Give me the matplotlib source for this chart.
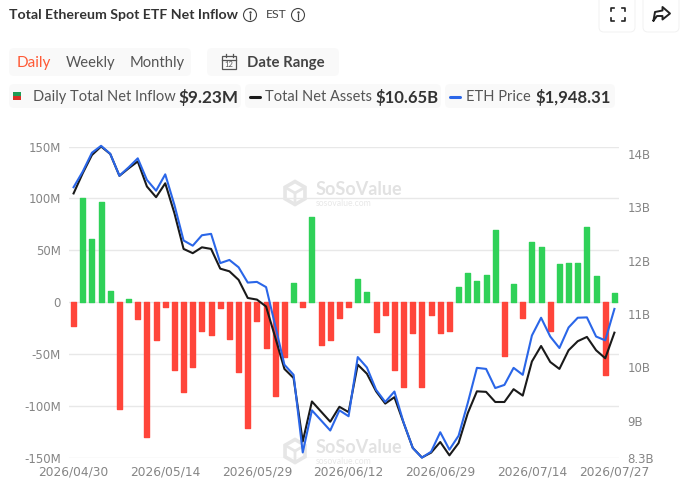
import matplotlib
matplotlib.use('Agg')
import matplotlib.pyplot as plt
from matplotlib.patches import FancyBboxPatch, Circle, Rectangle, RegularPolygon

# data
flow = [-23, 100.5, 61, 97, 11, -103, 3, -16, -130, -36, -5, -65, -86, -62, -28, -32, -6, -35, -67, -121.5,
        -18, -44.5, -90, -53, 19, -5, 82, -41, -36, -15.5, -5, 22, 9.5, -29, -12.5, -65.5, -82, -30, -81.5, -12.5,
        -29.5, -27.5, 14.5, 28.5, 20, 26.5, 70, -52, 18, -15, 58, 53.5, -27.5, 36.5, 38, 37.5, 72.5, 25.5, -70.5, 9.23]
assets = [13.26, 13.64, 13.98, 14.14, 14.00, 13.59, 13.73, 13.86, 13.39, 13.19, 13.45, 12.89, 12.22, 12.14, 12.25,
          12.22, 11.85, 11.80, 11.64, 11.30, 11.27, 11.14, 10.56, 9.97, 9.80, 8.61, 9.36, 9.17, 8.98, 9.26,
          9.16, 10.05, 9.88, 9.55, 9.32, 9.44, 8.96, 8.49, 8.31, 8.40, 8.60, 8.35, 8.58, 9.14, 9.55,
          9.54, 9.35, 9.35, 9.59, 9.47, 10.11, 10.40, 10.10, 9.97, 10.32, 10.49, 10.57, 10.32, 10.17, 10.65]
price = [2298, 2343, 2397, 2417, 2394, 2331, 2355, 2381, 2319, 2288, 2335, 2247, 2145, 2130, 2160,
         2164, 2080, 2089, 2068, 2024, 2026, 2011, 1900, 1788, 1759, 1536, 1657, 1628, 1599, 1657,
         1640, 1810, 1780, 1716, 1681, 1711, 1622, 1549, 1521, 1538, 1594, 1544, 1584, 1678, 1779,
         1776, 1721, 1730, 1779, 1759, 1872, 1923, 1869, 1836, 1895, 1923, 1924, 1869, 1858, 1948.31]
date_pos = [0, 10, 20, 30, 40, 50, 59]
date_labels = ['2026/04/30', '2026/05/14', '2026/05/29', '2026/06/12', '2026/06/29', '2026/07/14', '2026/07/27']
flow_ticks = [150, 100, 50, 0, -50, -100, -150]
flow_labels = ['150M', '100M', '50M', '0', '-50M', '-100M', '-150M']
asset_ticks = [14, 13, 12, 11, 10, 9, 8.3]
asset_labels = ['14B', '13B', '12B', '11B', '10B', '9B', '8.3B']

GREEN = '#2fd158'
RED = '#ff453a'
BLACK = '#1a1a1a'
BLUE = '#2a66e8'
W, H = 690, 493

fig = plt.figure(figsize=(6.9, 4.93), dpi=100)

# header layer, in pixels
bg = fig.add_axes([0, 0, 1, 1], zorder=0)
bg.set_xlim(0, W)
bg.set_ylim(H, 0)
bg.axis('off')


def label(x, y, s, size=10, color='#333333', weight='normal', ha='left'):
    bg.text(x, y, s, fontsize=size, color=color, fontweight=weight, ha=ha, va='center', family='Lato')


def box(x0, y0, x1, y1, face='#f9f9f9', edge='none'):
    bg.add_patch(FancyBboxPatch((x0 + 5, y0 + 5), x1 - x0 - 10, y1 - y0 - 10, boxstyle='round,pad=5',
                                fc=face, ec=edge, lw=0.7))


def info(x, y):
    bg.add_patch(Circle((x, y), 6.5, fc='none', ec='#444444', lw=0.8))
    bg.plot([x, x], [y - 1, y + 3.5], color='#444444', lw=0.9)
    bg.plot([x], [y - 3], '.', color='#444444', ms=1.5)


label(9, 15, 'Total Ethereum Spot ETF Net Inflow', 10.15, '#333333', 'bold')
info(250, 15)
label(266, 15, 'EST', 8.8, '#444444')
info(298, 15)

box(599, -12, 635, 32, 'white', '#f2f2f2')
box(643, -12, 679, 32, 'white', '#f2f2f2')
# fullscreen corners
for cx, cy, dx, dy in [(611, 8, 1, 1), (625, 8, -1, 1), (611, 21, 1, -1), (625, 21, -1, -1)]:
    bg.plot([cx + 3 * dx, cx, cx], [cy, cy, cy + 3 * dy], color='#222222', lw=1.2)
# share arrow
bg.plot([653.5, 655, 662.5, 662.5, 670, 662.5, 662.5, 657, 653.5],
        [20.5, 12, 10.5, 7, 13.5, 19.5, 16, 16, 20.5], color='#222222', lw=1.4)

box(9, 48, 191, 76)
box(207, 48, 339, 76)
label(17, 63, 'Daily', 11, '#ff5a36')
label(66, 63, 'Weekly', 10.6, '#555555')
label(130, 63, 'Monthly', 10.6, '#555555')
label(247, 63, 'Date Range', 10.7, '#444444', 'bold')
# calendar icon
bg.add_patch(Rectangle((222, 55.5), 14, 13.5, fc='none', ec='#555555', lw=0.9))
bg.plot([222, 236], [59.5, 59.5], color='#555555', lw=0.9)
bg.plot([225.5, 225.5], [53.5, 57], color='#555555', lw=0.9)
bg.plot([232.5, 232.5], [53.5, 57], color='#555555', lw=0.9)
bg.text(229, 64.5, '12', fontsize=5.5, color='#555555', ha='center', va='center', family='Lato')

box(9, 84, 241, 108)
box(245, 84, 441, 108)
box(445, 84, 615, 108)
bg.add_patch(Rectangle((13, 92), 8, 4, fc='#1f9d55', ec='none'))
bg.add_patch(Rectangle((13, 96), 8, 4, fc='#d93025', ec='none'))
label(33, 97, 'Daily Total Net Inflow', 10.5, '#555555')
label(178, 97, '$9.23M', 12.3, '#333333', 'bold')
bg.plot([250, 260], [96.7, 96.7], color=BLACK, lw=2.2, solid_capstyle='round')
label(265, 97, 'Total Net Assets', 10.5, '#555555')
label(375, 97, '$10.65B', 12, '#333333', 'bold')
bg.plot([450, 460], [96.7, 96.7], color=BLUE, lw=2.2, solid_capstyle='round')
label(466, 97, 'ETH Price', 10.5, '#555555')
label(535, 97, '$1,948.31', 12, '#333333', 'bold')

# watermarks
for wy in [193, 451]:
    bg.add_patch(RegularPolygon((295, wy), 6, radius=11.5, fc='none', ec='#e6e6e6', lw=2.6))
    bg.plot([295, 295, 285.5], [wy + 11, wy, wy - 5.5], color='#e6e6e6', lw=2)
    bg.plot([295, 304.5], [wy, wy - 5.5], color='#e6e6e6', lw=2)
    bg.text(316, wy - 3.5, 'SoSoValue', fontsize=13, color='#e2e2e2', fontweight='bold',
            ha='left', va='center', family='Lato')
    bg.text(316, wy + 10, 'sosovalue.com', fontsize=6.2, color='#e8e8e8',
            ha='left', va='center', family='Lato')

# chart
ax = fig.add_axes([69 / W, 1 - 458 / H, 550 / W, 311.5 / H], zorder=1)
ax.patch.set_alpha(0)
x = list(range(len(flow)))
colors = [GREEN if v >= 0 else RED for v in flow]
ax.bar(x, flow, width=0.55, color=colors, edgecolor=colors, linewidth=1, joinstyle='round', zorder=2)
ax.set_xlim(-0.5, 59.5)
ax.set_ylim(-150, 150)
ax.set_yticks(flow_ticks)
ax.set_yticklabels(flow_labels)
ax.set_xticks(date_pos)
ax.set_xticklabels(date_labels, fontsize=8.8)
ax.tick_params(length=0, labelsize=8.5, labelcolor='#858585')
ax.tick_params(axis='x', labelsize=8.8, pad=5.5)
ax.tick_params(axis='y', pad=6)
ax.grid(axis='y', color='#e8e8e8', lw=1, zorder=0)
ax.set_axisbelow(True)
for s in ax.spines.values():
    s.set_visible(False)

ax2 = ax.twinx()
ax2.plot(x, assets, color=BLACK, lw=1.5, clip_on=False, zorder=3)
ax2.set_ylim(8.3, 14.14)
ax2.set_yticks(asset_ticks)
ax2.set_yticklabels(asset_labels)
ax2.tick_params(length=0, labelsize=8.5, labelcolor='#858585', pad=6)

ax3 = ax.twinx()
ax3.plot(x, price, color=BLUE, lw=1.5, clip_on=False, zorder=4)
ax3.set_ylim(1520, 2415)
ax3.set_yticks([])
for a in (ax2, ax3):
    a.patch.set_alpha(0)
    for s in a.spines.values():
        s.set_visible(False)

fig.savefig('out.png', dpi=100)
